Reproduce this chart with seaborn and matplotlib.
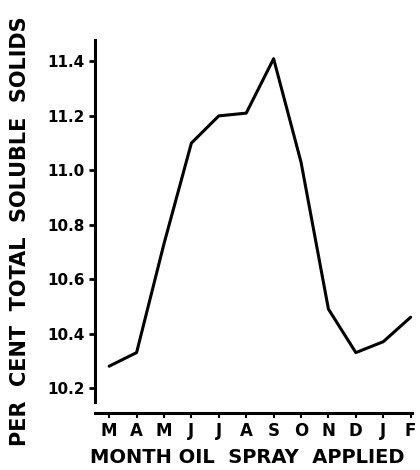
import matplotlib
matplotlib.use("Agg")
import matplotlib.pyplot as plt
import seaborn as sns
import pandas as pd

# data
months = ["M", "A", "M", "J", "J", "A", "S", "O", "N", "D", "J", "F"]
solids = [10.28, 10.33, 10.73, 11.10, 11.20, 11.21, 11.41, 11.03, 10.49, 10.33, 10.37, 10.46]
y_ticks = [10.2, 10.4, 10.6, 10.8, 11.0, 11.2, 11.4]

df = pd.DataFrame({"pos": range(len(months)), "solids": solids})

sns.set_style("ticks")
plt.rcParams["font.family"] = ["DejaVu Sans"]
plt.rcParams["font.weight"] = "bold"

fig = plt.figure(figsize=(4.2, 4.7), dpi=100)
ax = fig.add_axes([0.226, 0.145, 0.755, 0.770])

sns.lineplot(data=df, x="pos", y="solids", ax=ax, color="black", linewidth=2.2)

ax.set_xlim(-0.52, 11.05)
ax.set_ylim(10.149, 11.479)
ax.set_xticks(df["pos"])
ax.set_xticklabels(months)
ax.set_yticks(y_ticks)
ax.set_yticklabels([f"{v:.1f}" for v in y_ticks])

sns.despine(ax=ax, top=True, right=True)
ax.spines["bottom"].set_position(("outward", 8))
for side in ["left", "bottom"]:
    ax.spines[side].set_linewidth(2.2)
    ax.spines[side].set_color("black")

ax.tick_params(axis="y", length=4.5, width=2.0, labelsize=11, pad=3, colors="black")
ax.tick_params(axis="x", length=3.5, width=1.5, labelsize=12, pad=3, colors="black")
for lab in ax.get_xticklabels() + ax.get_yticklabels():
    lab.set_fontweight("bold")

ax.set_xlabel("MONTH OIL  SPRAY  APPLIED", fontsize=14, fontweight="bold", color="black")
ax.set_ylabel("PER  CENT  TOTAL  SOLUBLE  SOLIDS", fontsize=15, fontweight="bold", color="black")
ax.xaxis.set_label_coords(0.481, -0.127)
ax.yaxis.set_label_coords(-0.206, 0.472)

fig.savefig("out.png", dpi=100)
